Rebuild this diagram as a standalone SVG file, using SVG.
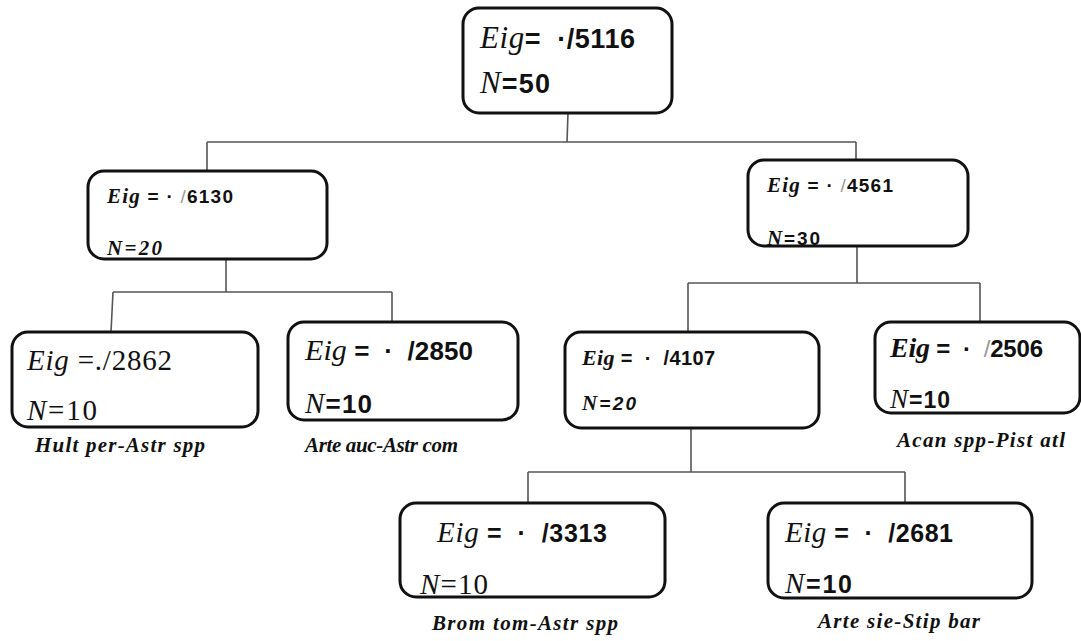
<svg xmlns="http://www.w3.org/2000/svg" width="1081" height="641" viewBox="0 0 1081 641">
<style>
.box{fill:#fff;stroke:#111;stroke-width:3}
.conn{stroke:#555;stroke-width:1.6;fill:none}
.it{font-family:"Liberation Serif",serif;font-style:italic}
.sr{font-family:"Liberation Serif",serif}
.sb{font-family:"Liberation Sans",sans-serif;font-weight:bold}
.gr{font-family:"Liberation Sans",sans-serif;fill:#999;font-weight:normal}
.lbl{font-family:"Liberation Serif",serif;font-style:italic;font-weight:bold;font-size:21px;fill:#111}
text{fill:#111}
</style>
<rect width="1081" height="641" fill="#fff"/>
<g id="connectors">
<path class="conn" d="M568,113 L567,142 M207,142 L856,142 M207,142 L207,171 M856,142 L856,160"/>
<path class="conn" d="M226,259 L226,292 M113,292 L392,292 M113,292 L111,332 M392,292 L392,322"/>
<path class="conn" d="M857,246 L857,283 M688,283 L980,283 M688,283 L688,332 M980,283 L980,322"/>
<path class="conn" d="M691,428 L691,472 M528,472 L905,472 M528,472 L528,503 M905,472 L905,503"/>
</g>
<g id="n-root">
<rect class="box" x="463" y="8" width="209" height="105" rx="16"/>
<text x="480" y="48" font-size="31" textLength="155" lengthAdjust="spacing"><tspan class="it">Eig</tspan><tspan class="sb" font-size="27">=&#160;&#160;·/5116</tspan></text>
<text x="480" y="93" font-size="31" textLength="70" lengthAdjust="spacing"><tspan class="it">N</tspan><tspan class="sb" font-size="27">=50</tspan></text>
</g>
<g id="n-6130">
<rect class="box" x="88" y="171" width="239" height="88" rx="16"/>
<text x="107" y="203" font-size="21" textLength="126" lengthAdjust="spacing"><tspan class="it" font-weight="bold">Eig</tspan><tspan class="sb" font-size="19">&#160;=&#160;·&#160;</tspan><tspan class="gr" font-size="19">/</tspan><tspan class="sb" font-size="19">6130</tspan></text>
<text class="it" x="107" y="255" font-size="21" font-weight="bold" textLength="55" lengthAdjust="spacing">N=20</text>
</g>
<g id="n-4561">
<rect class="box" x="748" y="160" width="220" height="86" rx="16"/>
<text x="767" y="192" font-size="21" textLength="126" lengthAdjust="spacing"><tspan class="it" font-weight="bold">Eig</tspan><tspan class="sb" font-size="19">&#160;=&#160;·&#160;</tspan><tspan class="gr" font-size="19">/</tspan><tspan class="sb" font-size="19">4561</tspan></text>
<text x="767" y="245" font-size="21" textLength="53" lengthAdjust="spacing"><tspan class="it" font-weight="bold">N</tspan><tspan class="sb" font-size="19">=30</tspan></text>
</g>
<g id="n-2862">
<rect class="box" x="12" y="332" width="246" height="95" rx="16"/>
<text x="27" y="370" font-size="29" textLength="145" lengthAdjust="spacing"><tspan class="it">Eig</tspan><tspan class="sr">&#160;=./2862</tspan></text>
<text x="27" y="420" font-size="29" textLength="70" lengthAdjust="spacing"><tspan class="it">N</tspan><tspan class="sr">=10</tspan></text>
</g>
<text class="lbl" x="35" y="452" textLength="170" lengthAdjust="spacing">Hult per-Astr spp</text>
<g id="n-2850">
<rect class="box" x="288" y="322" width="230" height="98" rx="16"/>
<text x="305" y="360" font-size="30" textLength="168" lengthAdjust="spacing"><tspan class="it">Eig</tspan><tspan class="sb" font-size="26" font-weight="normal">&#160;=&#160;&#160;·&#160;&#160;/2850</tspan></text>
<text x="305" y="413" font-size="29" textLength="67" lengthAdjust="spacing"><tspan class="it">N</tspan><tspan class="sb" font-size="26">=10</tspan></text>
</g>
<text class="lbl" x="305" y="452" textLength="153" lengthAdjust="spacing">Arte auc-Astr com</text>
<g id="n-4107">
<rect class="box" x="565" y="332" width="254" height="96" rx="16"/>
<text x="582" y="365" font-size="22" textLength="133" lengthAdjust="spacing"><tspan class="it" font-weight="bold">Eig</tspan><tspan class="sb" font-size="20">&#160;=&#160;&#160;·&#160;&#160;/4107</tspan></text>
<text x="582" y="410" font-size="21" textLength="54" lengthAdjust="spacing"><tspan class="it" font-weight="bold">N</tspan><tspan class="sb" font-style="italic" font-size="19">=20</tspan></text>
</g>
<g id="n-2506">
<rect class="box" x="875" y="322" width="205" height="91" rx="16"/>
<text x="890" y="357" font-size="28" textLength="153" lengthAdjust="spacing"><tspan class="it" font-weight="bold">Eig</tspan><tspan class="sb" font-size="24">&#160;=&#160;&#160;·&#160;&#160;</tspan><tspan class="gr" font-size="24">/</tspan><tspan class="sb" font-size="24">2506</tspan></text>
<text x="890" y="408" font-size="27" textLength="60" lengthAdjust="spacing"><tspan class="it">N</tspan><tspan class="sb" font-size="23">=10</tspan></text>
</g>
<text class="lbl" x="897" y="447" textLength="168" lengthAdjust="spacing">Acan spp-Pist atl</text>
<g id="n-3313">
<rect class="box" x="400" y="503" width="265" height="94" rx="16"/>
<text x="437" y="542" font-size="29" textLength="170" lengthAdjust="spacing"><tspan class="it">Eig</tspan><tspan class="sb" font-size="25">&#160;=&#160;&#160;·&#160;&#160;/3313</tspan></text>
<text x="420" y="594" font-size="29" textLength="68" lengthAdjust="spacing"><tspan class="it">N</tspan><tspan class="sr">=10</tspan></text>
</g>
<text class="lbl" x="432" y="630" textLength="186" lengthAdjust="spacing">Brom tom-Astr spp</text>
<g id="n-2681">
<rect class="box" x="768" y="503" width="264" height="95" rx="16"/>
<text x="785" y="542" font-size="29" textLength="168" lengthAdjust="spacing"><tspan class="it">Eig</tspan><tspan class="sb" font-size="25">&#160;=&#160;&#160;·&#160;&#160;/2681</tspan></text>
<text x="785" y="593" font-size="29" textLength="67" lengthAdjust="spacing"><tspan class="it">N</tspan><tspan class="sb" font-size="25">=10</tspan></text>
</g>
<text class="lbl" x="818" y="628" textLength="162" lengthAdjust="spacing">Arte sie-Stip bar</text>
</svg>
